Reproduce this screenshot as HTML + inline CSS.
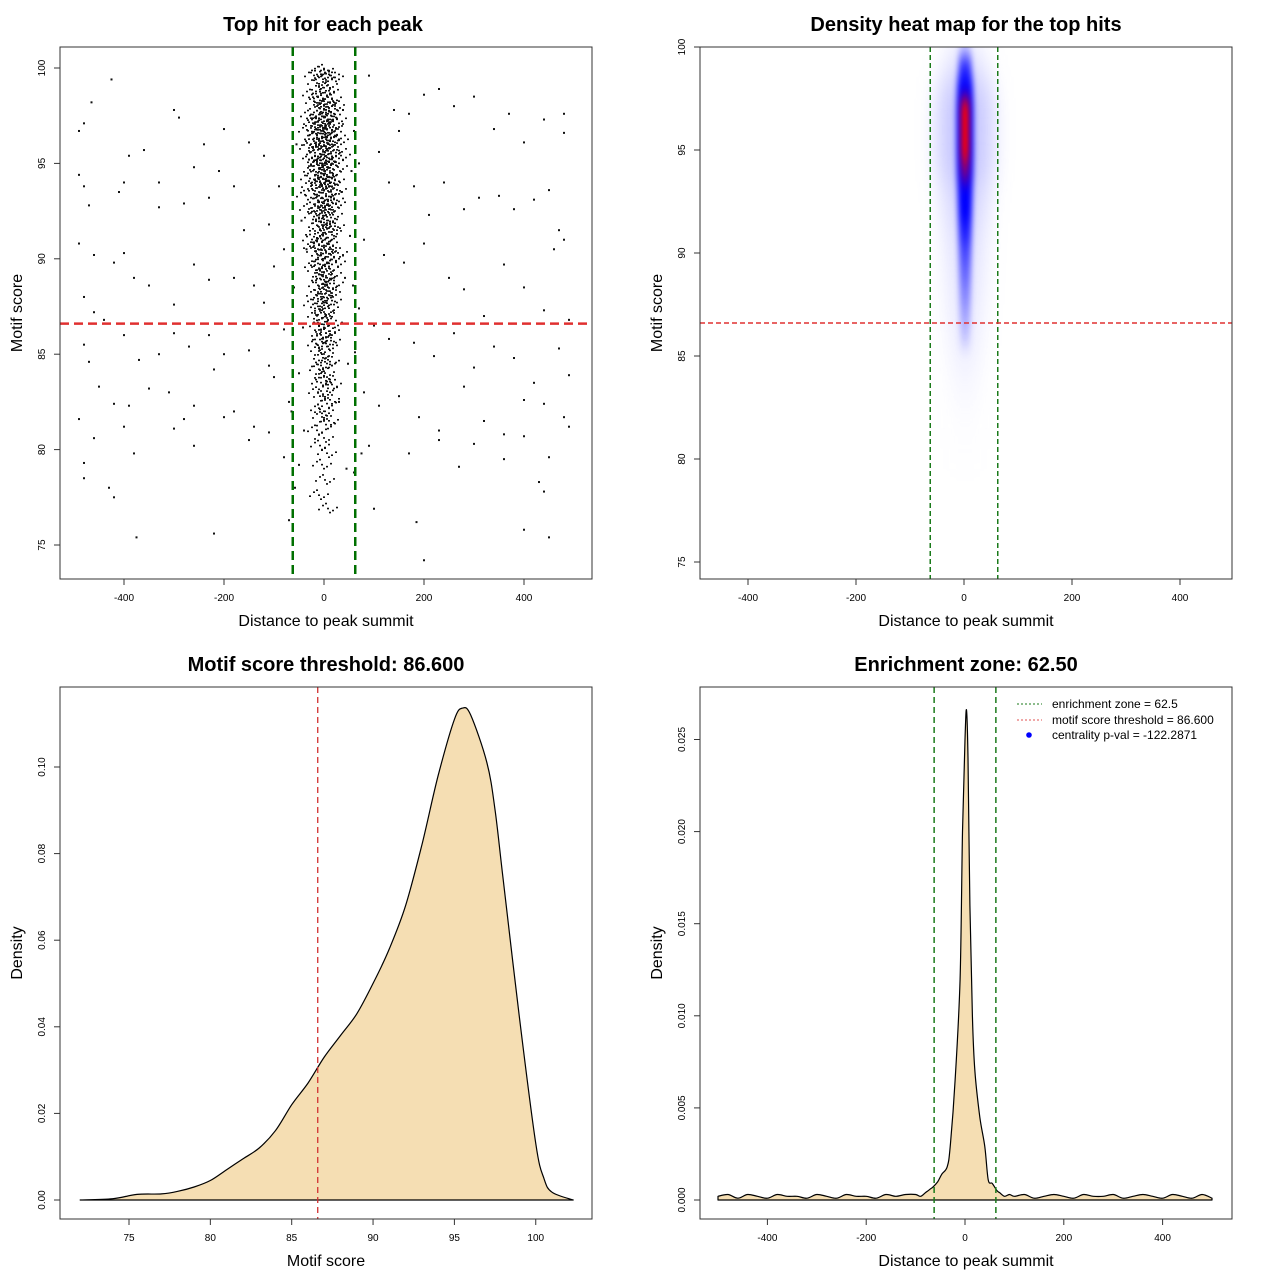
<!DOCTYPE html>
<html><head><meta charset="utf-8"><style>
body{margin:0;background:#fff}
svg text{font-family:"Liberation Sans",sans-serif}
</style></head><body>
<svg id="s" width="1280" height="1280" xmlns="http://www.w3.org/2000/svg">
<defs>
<clipPath id="c1"><rect x="60" y="47" width="532" height="532"/></clipPath>
<clipPath id="c2"><rect x="700" y="47" width="532" height="532"/></clipPath>
<filter id="b6" x="-200%" y="-200%" width="500%" height="500%"><feGaussianBlur stdDeviation="10 12"/></filter>
<filter id="b3" x="-200%" y="-200%" width="500%" height="500%"><feGaussianBlur stdDeviation="3 8"/></filter>
</defs>
<g>
<text x="323" y="31" font-size="20" font-weight="bold" text-anchor="middle">Top hit for each peak</text>
<g id="p1" clip-path="url(#c1)"></g>
<rect x="60" y="47" width="532" height="532" fill="none" stroke="#333"/>
<text x="326" y="626" font-size="16" text-anchor="middle">Distance to peak summit</text>
<text transform="translate(22,313) rotate(-90)" font-size="16" text-anchor="middle">Motif score</text>
<g id="ax1"></g>
</g>
<g>
<text x="966" y="31" font-size="20" font-weight="bold" text-anchor="middle">Density heat map for the top hits</text>
<g id="p2" clip-path="url(#c2)"></g>
<rect x="700" y="47" width="532" height="532" fill="none" stroke="#333"/>
<text x="966" y="626" font-size="16" text-anchor="middle">Distance to peak summit</text>
<text transform="translate(662,313) rotate(-90)" font-size="16" text-anchor="middle">Motif score</text>
<g id="ax2"></g>
</g>
<g>
<text x="326" y="671" font-size="20" font-weight="bold" text-anchor="middle">Motif score threshold: 86.600</text>
<g id="p3"></g>
<rect x="60" y="687" width="532" height="532" fill="none" stroke="#333"/>
<text x="326" y="1266" font-size="16" text-anchor="middle">Motif score</text>
<text transform="translate(22,953) rotate(-90)" font-size="16" text-anchor="middle">Density</text>
<g id="ax3"></g>
</g>
<g>
<text x="966" y="671" font-size="20" font-weight="bold" text-anchor="middle">Enrichment zone: 62.50</text>
<g id="p4"></g>
<rect x="700" y="687" width="532" height="532" fill="none" stroke="#333"/>
<text x="966" y="1266" font-size="16" text-anchor="middle">Distance to peak summit</text>
<text transform="translate(662,953) rotate(-90)" font-size="16" text-anchor="middle">Density</text>
<g id="ax4"></g>
<g>
<line x1="1017" y1="704" x2="1042" y2="704" stroke="#1a7a1a" stroke-dasharray="2,2"/>
<text x="1052" y="708" font-size="12">enrichment zone = 62.5</text>
<line x1="1017" y1="720" x2="1042" y2="720" stroke="#e05050" stroke-dasharray="2,2"/>
<text x="1052" y="724" font-size="12">motif score threshold = 86.600</text>
<circle cx="1029" cy="735" r="2.8" fill="#0000ff"/>
<text x="1052" y="739" font-size="12">centrality p-val = -122.2871</text>
</g>
</g>
</svg>
<script>
const bgX=[-490,-480,-465,-425,-390,-490,-480,-470,-410,-400,-360,-330,-300,-290,-240,-230,-200,-180,-150,-120,-90,-110,-330,-280,-260,-210,-160,-490,-460,-420,-400,-380,-350,-300,-260,-230,-180,-140,-120,-100,-80,-480,-460,-440,-400,-370,-330,-300,-270,-230,-200,-150,-110,-80,-480,-470,-450,-420,-390,-350,-310,-280,-260,-220,-180,-140,-100,-70,-490,-460,-430,-420,-380,-300,-260,-200,-150,-110,-80,-480,-480,-400,-375,-220,-50,-70,90,140,150,170,200,230,260,300,340,370,400,440,480,480,70,110,130,180,210,240,280,310,350,380,420,450,470,460,480,80,120,160,200,250,280,320,360,400,440,490,70,100,130,180,220,260,300,340,380,420,470,490,80,110,150,190,230,280,320,360,400,440,480,490,90,170,230,270,300,360,400,430,440,450,100,185,200,400,450,60,55,60,58,62,75,-55,-45,-60,-50,-40,-58,-35,-65,-30,-42,35,42,48,38,52,30,45];
const bgY=[96.7,97.1,98.2,99.4,95.4,94.4,93.8,92.8,93.5,94.0,95.7,94.0,97.8,97.4,96.0,93.2,96.8,93.8,96.1,95.4,93.8,91.8,92.7,92.9,94.8,94.6,91.5,90.8,90.2,89.8,90.3,89.0,88.6,87.6,89.7,88.9,89.0,88.6,87.7,89.6,90.5,88.0,87.2,86.8,86.0,84.7,85.0,86.1,85.4,86.0,85.0,85.2,84.4,86.3,85.5,84.6,83.3,82.4,82.3,83.2,83.0,81.6,82.3,84.2,82.0,81.2,83.8,82.5,81.6,80.6,78.0,77.5,79.8,81.1,80.2,81.7,80.5,80.9,79.6,78.5,79.3,81.2,75.4,75.6,79.2,76.3,99.6,97.8,96.7,97.6,98.6,98.9,98.0,98.5,96.8,97.6,96.1,97.3,97.6,96.6,95.0,95.6,94.0,93.8,92.3,94.0,92.6,93.2,93.3,92.6,93.1,93.6,91.5,90.5,91.0,91.0,90.2,89.8,90.8,89.0,88.4,87.0,89.7,88.5,87.3,86.8,87.4,86.5,85.8,85.6,84.9,86.1,84.3,85.4,84.8,83.5,85.3,83.9,83.0,82.3,82.8,81.7,81.0,83.3,81.5,80.8,82.6,82.4,81.7,81.2,80.2,79.8,80.5,79.1,80.3,79.5,80.7,78.3,77.8,79.6,76.9,76.2,74.2,75.8,75.4,78.8,94.6,96.7,88.6,85.1,79.8,96.0,92.0,88.5,84.0,81.0,78.0,90.5,82.0,95.2,86.4,93.5,89.0,84.5,97.8,91.2,82.5,79.0];
const clX=[-8,4,12,-2,20,-14,8,0,-20,-6,2,10,-12,16,-18,6,-2,22,-24,0,12,-10,4,-4,14,-16,8,0,-22,20,-6,10,-28,26,2,-12,-8,6,-2,16,-14,4,-20,12,0,-26,24,-10,8,-4,18,-16,2,30,-32,-6,10,-12,0,14,-18,6,-2,20,-8,4,-24,26,12,-14,2,-30,34,-4,8,-10,2,16,-16,6,-2,22,-8,12,-22,0,-28,28,-12,4,-6,10,-14,0,14,-20,4,-4,20,-10,8,26,-26,2,-36,-2,6,-8,12,-14,2,18,-20,-4,8,-30,24,0,-6,4,-12,10,0,16,-18,-2,6,-24,22,2,-4,8,-10,0,14,-16,4,-6,20,2,-22,28,-2,6,-8,10,-14,0,16,-4,4,-20,24,-6,2,-12,8,0,14,-16,-2,20,6,-4,4,-8,10,0,-14,16,2,-22,-2,6,-10,0,12,-6,4,18,-4,2,8,-8,0,14,-14,-2,6,-10,2,12,-6,0,-6,8,-12,4,16,-2,6,-8,12,0,-4,4,-14,10,0,-8,6,-4,2,-10,8];
const clY=[99.8,99.7,99.6,99.4,99.5,99.2,99.1,99.9,99.6,98.9,98.7,98.8,98.5,98.4,98.2,98.1,98.3,98.0,98.6,98.0,98.2,97.9,97.8,97.6,97.5,97.4,97.3,97.2,97.1,97.0,97.0,97.7,97.5,97.3,97.4,97.2,96.9,96.8,96.7,96.6,96.5,96.4,96.3,96.2,96.1,96.0,96.4,96.0,96.0,96.3,96.9,96.8,96.6,96.2,96.7,95.9,95.8,95.7,95.6,95.5,95.4,95.3,95.2,95.1,95.0,95.0,95.3,95.7,95.2,95.1,95.9,95.8,95.4,94.9,94.8,94.7,94.6,94.5,94.4,94.3,94.2,94.1,94.0,94.0,94.6,94.4,94.2,94.8,94.9,94.1,93.9,93.8,93.7,93.6,93.5,93.4,93.3,93.2,93.1,93.0,93.0,93.6,93.8,93.9,93.3,92.9,92.8,92.7,92.6,92.5,92.4,92.3,92.2,92.1,92.0,92.6,92.9,92.5,91.9,91.8,91.7,91.6,91.5,91.4,91.3,91.2,91.1,91.0,91.7,91.0,90.9,90.8,90.7,90.6,90.5,90.4,90.3,90.2,90.1,90.0,90.6,90.3,89.9,89.8,89.7,89.5,89.4,89.3,89.2,89.1,89.0,89.6,89.8,88.9,88.8,88.6,88.5,88.4,88.2,88.1,88.0,88.7,88.3,87.9,87.7,87.5,87.4,87.2,87.0,87.8,87.1,87.6,86.9,86.7,86.5,86.3,86.2,86.0,86.1,86.6,85.8,85.6,85.4,85.2,85.0,85.7,85.5,84.8,84.5,84.2,84.0,84.6,84.4,83.8,83.5,83.2,83.0,83.6,83.4,82.8,82.4,82.1,82.6,82.0,81.7,81.3,81.0,81.5,80.6,80.2,79.8,79.2,78.4,77.6,76.9];
const heatScores=[100,99,98,97,96,95,94,93,92,91,90,89,88,87,86,85,84,83,82,81,80];
const heatIntensity=[0.35,0.6,0.88,1,1,1,0.95,0.8,0.7,0.62,0.55,0.5,0.45,0.4,0.35,0.28,0.2,0.13,0.08,0.05,0.03];
const scoreX=[72,74,75.5,77,78,79,80,81,82,83,84,85,86,87,88,89,90,91,92,93,94,95,95.5,96,97,97.5,98,99,100,100.5,101,102.3];
const scoreD=[0,0.0003,0.0013,0.0014,0.002,0.003,0.0045,0.007,0.0095,0.012,0.016,0.022,0.027,0.033,0.038,0.043,0.05,0.058,0.068,0.082,0.098,0.111,0.1136,0.112,0.101,0.09,0.074,0.042,0.013,0.005,0.0018,0];
const distX=[-500,-480,-460,-440,-420,-400,-380,-360,-340,-320,-300,-280,-260,-240,-220,-200,-180,-160,-140,-120,-100,-90,-80,-70,-65,-55,-47,-36,-30,-20,-10,-5,0,3,6,10,15,20,30,40,47,55,65,70,80,90,100,120,140,160,180,200,220,240,260,280,300,320,340,360,380,400,420,440,460,480,500];
const distD=[0.0002,0.0003,0.0001,0.0003,0.0002,0.0001,0.0003,0.0002,0.0002,0.0001,0.0003,0.0002,0.0001,0.0003,0.0002,0.0002,0.0001,0.0003,0.0002,0.0003,0.0003,0.0002,0.0004,0.0006,0.0007,0.001,0.0014,0.0018,0.0029,0.0065,0.012,0.02,0.025,0.0266,0.024,0.016,0.01,0.007,0.0045,0.0029,0.0011,0.0009,0.0005,0.0004,0.0002,0.0003,0.0002,0.0003,0.0001,0.0002,0.0003,0.0002,0.0001,0.0003,0.0002,0.0002,0.0003,0.0001,0.0002,0.0003,0.0002,0.0001,0.0003,0.0002,0.0001,0.0003,0.0001];
const ticks1X=[-400,-200,0,200,400], ticks1Y=[75,80,85,90,95,100];
const ticks2X=[-400,-200,0,200,400], ticks2Y=[75,80,85,90,95,100];
const ticks3X=[75,80,85,90,95,100], ticks3Y=[0,0.02,0.04,0.06,0.08,0.10];
const ticks3YL=["0.00","0.02","0.04","0.06","0.08","0.10"];
const ticks4X=[-400,-200,0,200,400], ticks4Y=[0,0.005,0.01,0.015,0.02,0.025];
const ticks4YL=["0.000","0.005","0.010","0.015","0.020","0.025"];
const enrich=62.5, thresh=86.6;

const NS="http://www.w3.org/2000/svg";
function mk(p,tag,a){const e=document.createElementNS(NS,tag);for(const k in a)e.setAttribute(k,a[k]);p.appendChild(e);return e;}
const sx1=u=>324+u*0.5, sy1=v=>68+(100-v)*19.08;
const sx2=u=>964+u*0.54, sy2=v=>47+(100-v)*20.6;
const sx3=v=>129+(v-75)*16.27, sy3=d=>1200-d*4330;
const sx4=u=>965+u*0.494, sy4=d=>1200-d*18420;

function smooth(pts){
  let s='';
  for(let i=0;i<pts.length-1;i++){
    const p0=pts[Math.max(0,i-1)],p1=pts[i],p2=pts[i+1],p3=pts[Math.min(pts.length-1,i+2)];
    const c1=[p1[0]+(p2[0]-p0[0])/6,p1[1]+(p2[1]-p0[1])/6];
    const c2=[p2[0]-(p3[0]-p1[0])/6,p2[1]-(p3[1]-p1[1])/6];
    s+=` C${c1[0].toFixed(1)},${c1[1].toFixed(1)} ${c2[0].toFixed(1)},${c2[1].toFixed(1)} ${p2[0].toFixed(1)},${p2[1].toFixed(1)}`;
  }
  return s;
}
function axes(g,xs,xl,sx,yb,ys,yl,sy,xl0){
  for(let i=0;i<xs.length;i++){const x=sx(xs[i]);
    const t=mk(g,'line',{x1:x,y1:yb,x2:x,y2:yb+6,stroke:'#333'});
    
    
    const tx=mk(g,'text',{x:x,y:yb+22,'font-size':10,'text-anchor':'middle'});tx.textContent=xl[i];
    
    }
  for(let i=0;i<ys.length;i++){const y=sy(ys[i]);
    const t=mk(g,'line',{x1:xl0,y1:y,x2:xl0-6,y2:y,stroke:'#333'});
    
    
    const tx=mk(g,'text',{transform:`translate(${xl0-15},${y}) rotate(-90)`,'font-size':10,'text-anchor':'middle'});tx.textContent=yl[i];
    
    }
}
// Panel 1
const p1=document.getElementById('p1');
for(let i=0;i<bgX.length;i++){const r=mk(p1,'rect',{x:sx1(bgX[i])-1,y:sy1(bgY[i])-1,width:2,height:2,fill:'#111'});
  
  }
for(let i=0;i<clX.length;i++){
  for(const o of [[0,0],[5,2],[-5,-3],[9,-1],[-9,1],[2,4],[-2,-5]]){
  const r=mk(p1,'rect',{x:sx1(clX[i])-1+o[0],y:sy1(clY[i])-1+o[1],width:2,height:1.6,fill:'#111'});
  
  }}
for(const e of [-enrich,enrich]){const l=mk(p1,'line',{x1:sx1(e),y1:47,x2:sx1(e),y2:579,stroke:'#007000','stroke-width':2.5,'stroke-dasharray':'9,5'});
  
  }
let th=mk(p1,'line',{x1:60,y1:sy1(thresh),x2:592,y2:sy1(thresh),stroke:'#e03030','stroke-width':2.5,'stroke-dasharray':'9,5'});


axes(document.getElementById('ax1'),ticks1X,ticks1X,sx1,579,ticks1Y,ticks1Y,sy1,60);
// Panel 2
const p2=document.getElementById('p2');
const gh=mk(p2,'g',{filter:'url(#b6)'});
for(let i=0;i<heatScores.length;i++){const it=heatIntensity[i],y=sy2(heatScores[i]);
  const w=18+it*36;
  const h=mk(gh,'rect',{x:sx2(2)-w/2,y:y-10.3,width:w,height:20.6,fill:'#a8a8ff',opacity:Math.min(1,it*0.65)});
  
  }
const gc=mk(p2,'g',{filter:'url(#b3)'});
for(let i=0;i<heatScores.length;i++){const it=heatIntensity[i];if(it<0.3)continue;
  const y=sy2(heatScores[i]);const w=6+it*11;
  const c=mk(gc,'rect',{x:sx2(2)-w/2,y:y-10.3,width:w,height:20.6,fill:'#0000ff',opacity:Math.min(1,(it-0.28)*2.5)});
  
  }
const gr=mk(p2,'g',{filter:'url(#b3)'});
for(let i=0;i<heatScores.length;i++){const it=heatIntensity[i];if(it<0.92)continue;
  const y=sy2(heatScores[i]);
  const c=mk(gr,'rect',{x:sx2(2)-4,y:y-10.3,width:8,height:20.6,fill:'#ff0000',opacity:Math.min(1,(it-0.9)*10)});
  
  }
for(const e of [-enrich,enrich]){const l=mk(p2,'line',{x1:sx2(e),y1:47,x2:sx2(e),y2:579,stroke:'#1a7a1a','stroke-width':1.5,'stroke-dasharray':'5,3'});
  
  }
th=mk(p2,'line',{x1:700,y1:sy2(thresh),x2:1232,y2:sy2(thresh),stroke:'#e03030','stroke-width':1.5,'stroke-dasharray':'5,3'});


axes(document.getElementById('ax2'),ticks2X,ticks2X,sx2,579,ticks2Y,ticks2Y,sy2,700);
// Panel 3
const p3=document.getElementById('p3');
let pts=scoreX.map((v,i)=>[sx3(v),sy3(scoreD[i])]);
let d='M'+pts[0][0]+','+pts[0][1]+smooth(pts)+' Z';
let a=mk(p3,'path',{d:d,fill:'#f5deb3',stroke:'#000','stroke-width':1.2,'stroke-linejoin':'round'});


th=mk(p3,'line',{x1:sx3(thresh),y1:687,x2:sx3(thresh),y2:1219,stroke:'#d03030','stroke-width':1.3,'stroke-dasharray':'6,4'});


axes(document.getElementById('ax3'),ticks3X,ticks3X,sx3,1219,ticks3Y,ticks3YL,sy3,60);
// Panel 4
const p4=document.getElementById('p4');
pts=distX.map((v,i)=>[sx4(v),sy4(distD[i])]);
d='M'+sx4(distX[0])+','+sy4(0)+' L'+pts[0][0]+','+pts[0][1]+smooth(pts)+' L'+sx4(distX[distX.length-1])+','+sy4(0)+' Z';
a=mk(p4,'path',{d:d,fill:'#f5deb3',stroke:'#000','stroke-width':1.2,'stroke-linejoin':'round'});


for(const e of [-enrich,enrich]){const l=mk(p4,'line',{x1:sx4(e),y1:687,x2:sx4(e),y2:1219,stroke:'#1a7a1a','stroke-width':1.5,'stroke-dasharray':'6,4'});
  
  }
axes(document.getElementById('ax4'),ticks4X,ticks4X,sx4,1219,ticks4Y,ticks4YL,sy4,700);
</script>
</body></html>
